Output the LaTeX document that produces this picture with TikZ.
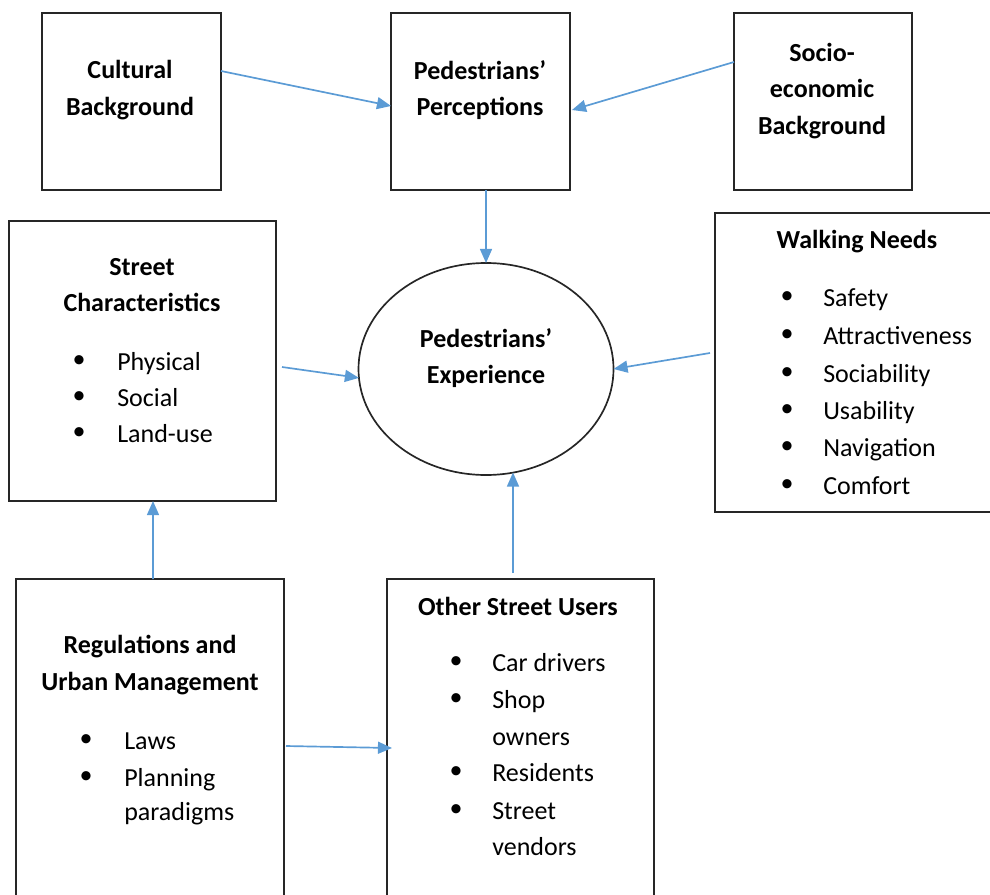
\documentclass[tikz,border=0pt]{standalone}
\usepackage{fontspec}
\setmainfont{Carlito}
\usetikzlibrary{arrows.meta}
\usetikzlibrary{shapes.geometric}
\usetikzlibrary{calc}

\definecolor{linkblue}{HTML}{5B9BD5}

\begin{document}
\begin{tikzpicture}[x=0.025cm, y=-0.025cm,
	box/.style={draw=black!85, line width=1.4pt, inner sep=0pt, outer sep=0pt},
	title/.style={align=center, font=\fontsize{18.5}{25.8}\selectfont\bfseries},
	item/.style={anchor=base west, inner sep=0pt, font=\fontsize{18.5}{25.8}\selectfont},
	dot/.style={inner sep=0pt, font=\fontsize{18.5}{25.8}\selectfont},
	link/.style={draw=linkblue, line width=1.2pt, -{Triangle[length=10pt, width=8.5pt]}}]

	% size of one pixel of the reference
	\def\px{0.025cm}

	% page frame, the lower boxes run off the bottom edge
	\useasboundingbox (0,0) rectangle (990,894);
	\clip (0,0) rectangle (990,894);

	% top row of boxes
	\node[box, minimum width=179*\px, minimum height=177*\px] (cult) at (131.5,101.5) {};
	\node[box, minimum width=179*\px, minimum height=177*\px] (perc) at (480.5,101.5) {};
	\node[box, minimum width=178*\px, minimum height=177*\px] (socio) at (823,101.5) {};
	\node[title] (cultT) at (130,90) {Cultural\\Background};
	\node[title] (percT) at (480,90) {Pedestrians’\\Perceptions};
	\node[title] (socioT) at (822,91) {Socio-\\economic\\Background};

	% middle row
	\node[box, minimum width=267*\px, minimum height=280*\px] (street) at (142.5,361) {};
	\node[box, minimum width=290*\px, minimum height=299*\px] (walk) at (860,362.5) {};
	\node[draw=black!85, line width=1.2pt, ellipse, inner sep=0pt, outer sep=0pt,
		minimum width=255*\px, minimum height=212*\px] (exp) at (486,369) {};
	\node[title] (streetT) at (142,285) {Street\\Characteristics};
	\node[title] (walkT) at (857,242) {Walking Needs};
	\node[title] (expT) at (486,358) {Pedestrians’\\Experience};

	% bottom row
	\node[box, minimum width=268*\px, minimum height=351*\px] (reg) at (150,754.5) {};
	\node[box, minimum width=267*\px, minimum height=351*\px] (other) at (520.5,754.5) {};
	\node[title] (regT) at (150,665) {Regulations and\\Urban Management};
	\node[title] (otherT) at (518,606) {Other Street Users};

	% bullet lists (y of each line, text)
	\foreach \y/\t in {362/Physical, 398/Social, 434/Land-use}{
		\node[dot] (sd\y) at (79,\y) {•};
		\node[item] (si\y) at (117,\y+8) {\t};
	}
	\foreach \y/\t in {298/Safety, 336/Attractiveness, 374/Sociability, 411/Usability, 448/Navigation, 486/Comfort}{
		\node[dot] (wd\y) at (787,\y) {•};
		\node[item] (wi\y) at (823,\y+8) {\t};
	}
	\foreach \y/\t in {741/Laws, 778/Planning, 812/paradigms}
		\node[item] (ri\y) at (124,\y+8) {\t};
	\foreach \y in {741,778}
		\node[dot] (rd\y) at (86,\y) {•};
	\foreach \y/\t in {663/Car drivers, 700/Shop, 737/owners, 773/Residents, 811/Street, 847/vendors}
		\node[item] (oi\y) at (492,\y+8) {\t};
	\foreach \y in {663,700,773,811}
		\node[dot] (od\y) at (456,\y) {•};

	% connectors
	\draw[link] ($(cult.east)+(0,-30.5)$) -- ($(perc.west)+(0,4.5)$);
	\draw[link] ($(socio.west)+(0,-39.5)$) -- ($(perc.east)+(2,8.5)$);
	\draw[link] ($(perc.south)+(5.5,0)$) -- (exp.north);
	\draw[link] ($(street.east)+(6,6)$) -- (exp.184);
	\draw[link] ($(walk.west)+(-5,-9.5)$) -- (exp.east);
	\draw[link] ($(reg.north)+(3,0)$) -- ($(street.south)+(10.5,0)$);
	\draw[link] ($(other.north)+(-7.5,-6)$) -- ($(exp.south)+(27,-2.5)$);
	\draw[link] ($(reg.east)+(2,-8.5)$) -- ($(other.west)+(5,-6.5)$);

\end{tikzpicture}
\end{document}
